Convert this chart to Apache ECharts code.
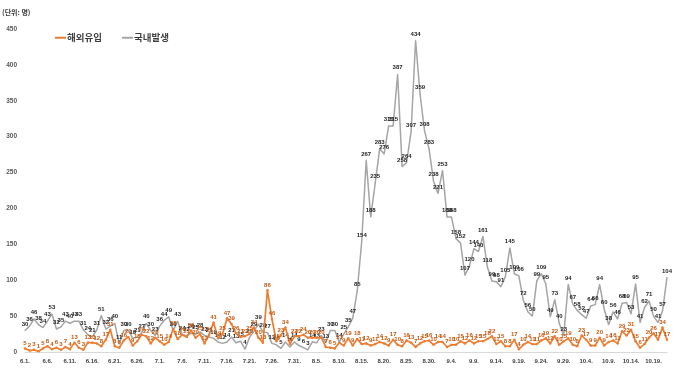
<!DOCTYPE html>
<html><head><meta charset="utf-8">
<script src="https://cdn.jsdelivr.net/npm/echarts@6/dist/echarts.min.js"></script>
<style>html,body{margin:0;padding:0;background:#fff}#c{width:680px;height:371px}</style>
</head><body><div id="c"></div>
<script>
// month lengths for building day labels 6.1. .. 10.22.
const months = [6, 7, 8, 9, 10];
const monthDays = [30, 31, 31, 30, 22];
const categories = [];
months.forEach((m, i) => { for (let d = 1; d <= monthDays[i]; d++) categories.push(m + '.' + d + '.'); });

const domesticJun = [30,36,46,38,34,43,53,32,35,43,40,43,43,31,24,21,31,51,32,36,40,11,30,30,19,21,27,40,30,23];
const domesticJul = [36,44,49,30,43,24,23,26,25,28,23,21,19,14,12,14,21,13,15,4,20,29,39,28,27,12,10,5,14,7,14];
const domesticAug = [9,6,3,14,13,23,13,30,30,14,25,35,47,85,154,267,188,235,283,276,315,315,387,258,264,307,434,359,308,283,238];
const domesticSep = [221,253,188,188,158,152,107,120,144,140,161,118,99,98,91,105,145,109,106,72,56,50,99,109,95,49,73,40,23,94];
const domesticOct = [67,58,52,47,64,66,94,60,38,56,46,68,69,53,95,41,62,71,50,41,57,104];

const importedJun = [5,2,3,1,5,8,4,6,3,7,4,13,6,3,13,13,12,8,17,31,8,6,16,21,9,15,24,22,12,20];
const importedJul = [15,10,14,32,18,24,21,30,20,25,12,24,41,19,25,47,39,26,21,22,25,34,20,13,86,46,15,23,34,11,22];
const importedAug = [22,24,20,20,20,20,7,6,5,13,9,19,9,18,11,12,9,11,14,12,9,17,10,8,16,13,7,12,15,16,10];
const importedSep = [14,14,7,10,10,15,12,16,12,15,15,18,22,11,15,8,8,17,4,10,14,11,11,16,19,12,22,10,15,19];
const importedOct = [10,8,23,17,9,9,20,9,14,16,12,29,23,31,15,6,11,20,26,17,34,17];

const domestic = [].concat(domesticJun, domesticJul, domesticAug, domesticSep, domesticOct);
const imported = [].concat(importedJun, importedJul, importedAug, importedSep, importedOct);

const yTicks = {min: 0, max: 450, interval: 50};
const seriesNames = ['해외유입', '국내발생'];

const chart = echarts.init(document.getElementById('c'));
chart.setOption({
  animation: false,
  backgroundColor: '#fff',
  textStyle: {fontFamily: 'Liberation Sans, Arial, sans-serif'},
  graphic: [{type: 'text', left: 2, top: 9, style: {text: '(단위: 명)', fontSize: 7, fontWeight: 'bold', fill: '#404040', fontFamily: 'Noto Sans CJK KR'}}],
  legend: {
    left: 50, top: 28, itemWidth: 11, itemHeight: 2, itemGap: 20, icon: 'rect',
    data: seriesNames,
    textStyle: {fontSize: 9.5, fontWeight: 'bold', color: '#404040', fontFamily: 'Noto Sans CJK KR', padding: [0,0,0,-4]}
  },
  grid: {left: 25, right: 13, top: 29, bottom: 19},
  xAxis: {
    type: 'category', data: categories, boundaryGap: false,
    axisTick: {show: false},
    axisLine: {lineStyle: {color: '#d9d9d9'}},
    axisLabel: {interval: 4, fontSize: 6, fontWeight: 'bold', color: '#404040', margin: 6}
  },
  yAxis: {
    type: 'value', min: yTicks.min, max: yTicks.max, interval: yTicks.interval,
    splitLine: {show: false},
    axisLabel: {fontSize: 6.5, fontWeight: 'bold', color: '#595959', margin: 8}
  },
  series: [
    {
      name: seriesNames[0], type: 'line', data: imported, z: 3,
      color: '#ED7D31',
      lineStyle: {width: 1.7, color: '#ED7D31'},
      symbol: 'circle', symbolSize: 2.5, showSymbol: true, showAllSymbol: true,
      itemStyle: {color: '#ED7D31'},
      labelLayout: {hideOverlap: false},
      label: {show: true, position: 'top', distance: 1, fontSize: 6, fontWeight: 'bold', color: '#C55A11'}
    },
    {
      name: seriesNames[1], type: 'line', data: domestic, z: 2,
      color: '#A5A5A5',
      lineStyle: {width: 1.5, color: '#A5A5A5'},
      symbol: 'circle', symbolSize: 1, showSymbol: true, showAllSymbol: true,
      itemStyle: {color: '#A5A5A5'},
      labelLayout: {hideOverlap: false},
      label: {show: true, position: 'top', distance: 3, fontSize: 6, fontWeight: 'bold', color: '#262626'}
    }
  ]
});
</script></body></html>
